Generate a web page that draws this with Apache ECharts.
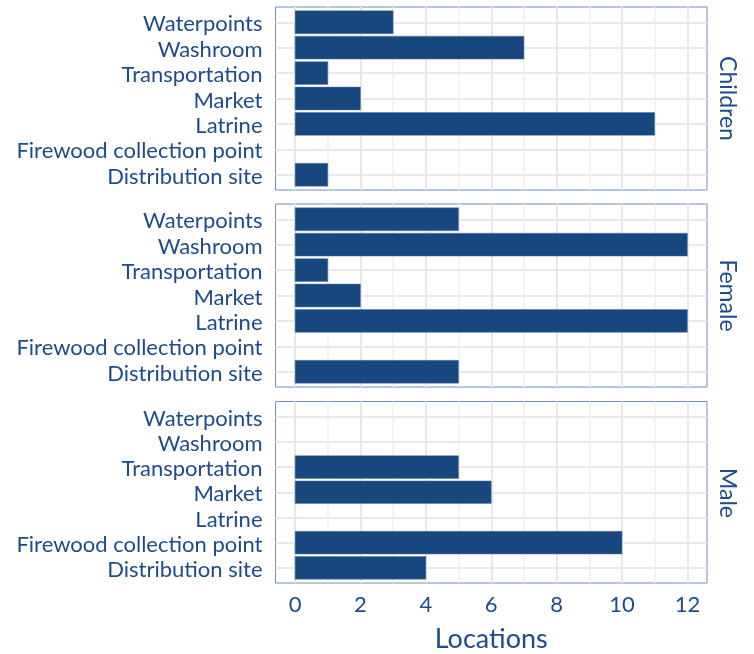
<!DOCTYPE html>
<html>
<head>
<meta charset="utf-8">
<script src="https://cdn.jsdelivr.net/npm/echarts@6/dist/echarts.min.js"></script>
<style>
html,body{margin:0;padding:0;background:#fff;}
#chart{width:754px;height:654px;}
</style>
</head>
<body>
<div id="chart"></div>
<script>
// Categories, bottom to top
const categories = ['Distribution site','Firewood collection point','Latrine','Market','Transportation','Washroom','Waterpoints'];
const panels = ['Children','Female','Male'];
const children = [1, 0, 11, 2, 1, 7, 3];
const female = [5, 0, 12, 2, 1, 12, 5];
const male = [4, 10, 0, 6, 5, 0, 0];
const xTickLabels = ['0','2','4','6','8','10','12'];
const xTitle = 'Locations';

const seriesValues = [children, female, male];
const TEXT = '#1d4c89';
const BAR = '#17477e';
const BORDER = '#7190b7';
const GRID_MAJOR = '#e8e8e8';
const GRID_MINOR = '#efefef';
const FONT = 'Lato';
const T = 'rgba(0,0,0,0)';

const tops = [7, 204, 401.5];
const H = 183;
const chart = echarts.init(document.getElementById('chart'));

const grid = [], xAxis = [], yAxis = [], series = [], graphic = [];
tops.forEach((top, i) => {
  grid.push({left: 275.5, right: 47, top: top, height: H, show: true, borderColor: BORDER, borderWidth: 1, backgroundColor: '#fff', containLabel: false});
  const isLast = i === tops.length - 1;
  const majorColors = [];
  for (let k = 0; k < 10; k++) majorColors.push(k === 3 ? GRID_MAJOR : T);
  const minorColors = [];
  for (let k = 0; k < 10; k++) minorColors.push(k === 8 ? GRID_MINOR : T);
  xAxis.push({
    gridIndex: i, type: 'value', min: -0.6, max: 12.6, interval: 0.2,
    axisLine: {show: false}, axisTick: {show: false},
    axisLabel: {show: isLast, color: TEXT, fontFamily: FONT, fontSize: 22, margin: 11,
      formatter: v => { const r = Math.round(v); return (Math.abs(v - r) < 1e-6 && r % 2 === 0 && r >= 0) ? xTickLabels[r / 2] : ''; }},
    splitLine: {show: true, lineStyle: {color: majorColors, width: 2}},
    name: isLast ? xTitle : '', nameLocation: 'middle', nameGap: 43,
    nameTextStyle: {color: TEXT, fontFamily: FONT, fontSize: 27}
  });
  xAxis.push({
    gridIndex: i, type: 'value', min: -0.6, max: 12.6, interval: 0.2,
    axisLine: {show: false}, axisTick: {show: false}, axisLabel: {show: false},
    splitLine: {show: true, lineStyle: {color: minorColors, width: 1.5}}
  });
  const yColors = [T, T, T, GRID_MAJOR, T];
  yAxis.push({
    gridIndex: i, type: 'value', min: -0.6, max: 6.6, interval: 0.2,
    axisLine: {show: false}, axisTick: {show: false},
    axisLabel: {show: true, color: TEXT, fontFamily: FONT, fontSize: 22, margin: 13,
      rich: {c: {color: TEXT, fontFamily: FONT, fontSize: 22, padding: [4, 0, 0, 0]}},
      formatter: v => { const r = Math.round(v); return (Math.abs(v - r) < 1e-6 && r >= 0 && r < categories.length) ? '{c|' + categories[r] + '}' : ''; }},
    splitLine: {show: true, lineStyle: {color: yColors, width: 2}}
  });
  series.push({
    type: 'custom', xAxisIndex: i * 2, yAxisIndex: i,
    data: seriesValues[i].map((v, j) => [v, j]),
    renderItem: (params, api) => {
      const v = api.value(0), j = api.value(1);
      if (!v) return null;
      const s = api.coord([0, j]);
      const e = api.coord([v, j]);
      const h = api.size([0, 0.9])[1];
      return {type: 'rect', shape: {x: s[0], y: s[1] - h / 2, width: e[0] - s[0], height: h},
        style: {fill: BAR, stroke: '#5a7ba6', lineWidth: 0.5}};
    },
    z: 5
  });
  graphic.push({
    type: 'text', x: 727, y: top + H / 2, rotation: -Math.PI / 2,
    style: {text: panels[i], fill: TEXT, font: '23px ' + FONT, align: 'center', verticalAlign: 'middle'}
  });
});

chart.setOption({
  animation: false,
  backgroundColor: '#fff',
  grid, xAxis, yAxis, series, graphic
});
</script>
</body>
</html>
